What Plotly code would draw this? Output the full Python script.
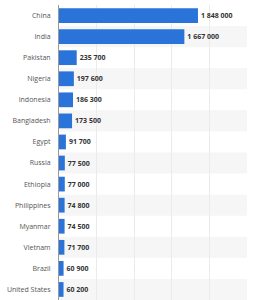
import plotly.graph_objects as go

countries = ["China", "India", "Pakistan", "Nigeria", "Indonesia", "Bangladesh", "Egypt",
             "Russia", "Ethiopia", "Philippines", "Myanmar", "Vietnam", "Brazil", "United States"]
values = [1848000, 1667000, 235700, 197600, 186300, 173500, 91700,
          77500, 77000, 74800, 74500, 71700, 60900, 60200]

fig = go.Figure()
fig.add_trace(go.Bar(
    y=countries, x=values, orientation="h",
    marker=dict(color="#2a73d9", line=dict(width=0)),
    texttemplate="%{x:,}", textposition="outside", cliponaxis=False,
    textfont=dict(family="Open Sans", size=7, color="#333333", weight="bold"),
    width=0.7, hoverinfo="skip",
))

shapes = []
for i in range(len(countries)):
    if i % 2 == 1:
        shapes.append(dict(type="rect", xref="paper", yref="y", x0=0, x1=1,
                           y0=i - 0.5, y1=i + 0.5, fillcolor="#f6f6f6",
                           line=dict(width=0), layer="below"))

fig.update_layout(
    width=264, height=300,
    margin=dict(l=59, r=17, t=5, b=0),
    paper_bgcolor="white", plot_bgcolor="white",
    separators=". ",
    showlegend=False,
    shapes=shapes,
    xaxis=dict(range=[0, 2500000], dtick=500000, showticklabels=False,
               showgrid=True, gridcolor="#ebebeb", gridwidth=1, zeroline=False,
               fixedrange=True),
    yaxis=dict(autorange="reversed", showline=True, linecolor="#999999", linewidth=1,
               ticks="", tickfont=dict(family="Open Sans", size=7, color="#555555"),
               ticklabelstandoff=6, showgrid=False, range=[13.5, -0.5]),
)

fig.write_html("out.html")
